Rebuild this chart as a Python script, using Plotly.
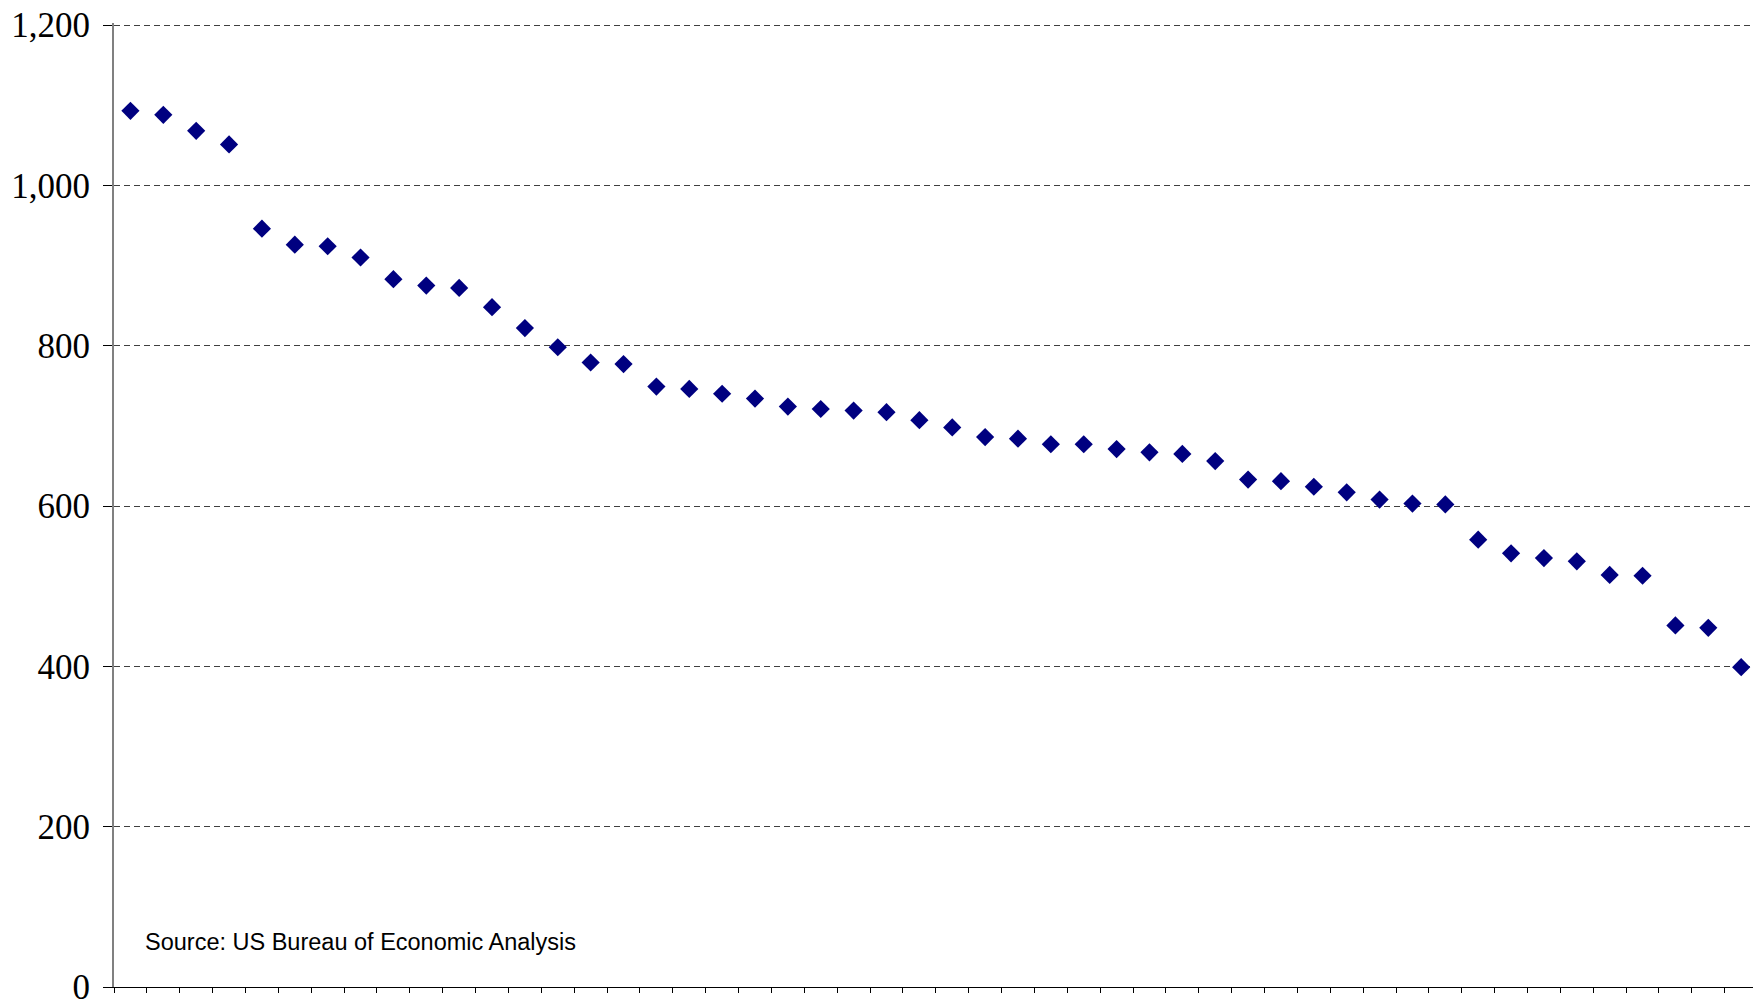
import plotly.graph_objects as go

# 50 categories (ranked)
categories = list(range(1, 51))
values = [
    1093, 1088, 1068, 1051, 946, 926, 924, 910, 883, 875,
    872, 848, 822, 798, 779, 777, 749, 746, 740, 734,
    724, 721, 719, 717, 707, 698, 686, 684, 677, 677,
    671, 667, 665, 656, 633, 631, 624, 617, 608, 603,
    602, 558, 541, 535, 531, 514, 513, 451, 448, 399,
]
y_ticks = [0, 200, 400, 600, 800, 1000, 1200]
y_tick_labels = ["0", "200", "400", "600", "800", "1,000", "1,200"]
source_text = "Source: US Bureau of Economic Analysis"

x_idx = list(range(len(categories)))
boundaries = [i - 0.5 for i in range(len(categories) + 1)]

fig = go.Figure()
fig.add_trace(go.Scatter(
    x=x_idx, y=values, mode="markers",
    marker=dict(symbol="diamond", size=14, color="#000080",
                line=dict(width=0)),
    showlegend=False, hoverinfo="y", cliponaxis=False,
))

fig.update_layout(
    width=1753, height=1000,
    margin=dict(l=114, r=0, t=23, b=13),
    paper_bgcolor="white", plot_bgcolor="white",
    xaxis=dict(
        range=[-0.5, 49.36], automargin=False,
        tickmode="array", tickvals=boundaries, ticktext=[""] * len(boundaries),
        ticks="outside", ticklen=5, tickcolor="#000000", tickwidth=1,
        showgrid=False, zeroline=False,
        showline=True, linecolor="#000000", linewidth=1,
    ),
    yaxis=dict(
        range=[0, 1202.5], automargin=False,
        tickmode="array", tickvals=y_ticks, ticktext=y_tick_labels,
        ticks="outside", ticklen=9, tickcolor="#000000", tickwidth=1,
        ticklabelstandoff=6, ticklabeloverflow="allow",
        tickfont=dict(family="Liberation Serif, Times New Roman, serif",
                      size=35, color="#000000"),
        showgrid=True, gridcolor="#404040", gridwidth=1, griddash="6px,4px",
        zeroline=False,
        showline=True, linecolor="#808080", linewidth=2,
    ),
    annotations=[dict(
        text=source_text, xref="paper", yref="paper",
        x=0.0177, y=0.0467, xanchor="left", yanchor="middle",
        showarrow=False,
        font=dict(family="Liberation Sans, Arial, sans-serif", size=23.5,
                  color="#000000"),
    )],
)

fig.write_html(
    "out.html",
    config={"displayModeBar": False},
    post_script="document.body.style.margin='0';document.body.style.overflow='hidden';",
)
